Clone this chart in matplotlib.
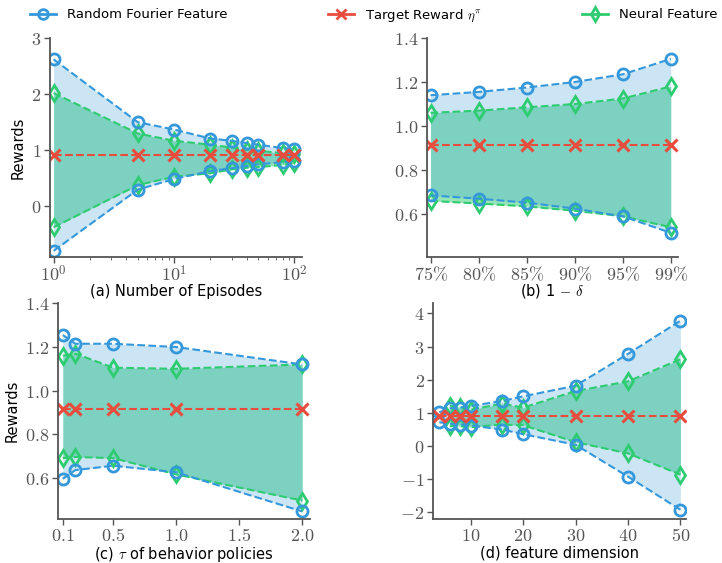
import numpy as np
import matplotlib
matplotlib.use("Agg")
from matplotlib import pyplot as plt
from matplotlib.lines import Line2D

plt.rcParams['mathtext.fontset'] = 'cm'
plt.rcParams['font.family'] = ['DejaVu Sans']

BLUE = '#3498db'
RED = '#e74c3c'
GREEN = '#2ecc71'

# (a) number of episodes
a_x = [1, 5, 10, 20, 30, 40, 50, 80, 100]
a_rff_hi = [2.62, 1.50, 1.37, 1.21, 1.17, 1.13, 1.10, 1.04, 1.02]
a_rff_lo = [-0.79, 0.30, 0.49, 0.63, 0.68, 0.72, 0.75, 0.79, 0.81]
a_nf_hi = [2.02, 1.30, 1.17, 1.10, 1.05, 1.01, 0.99, 0.95, 0.93]
a_nf_lo = [-0.37, 0.38, 0.53, 0.59, 0.66, 0.69, 0.70, 0.74, 0.77]
a_target = [0.92] * 9

# (b) 1 - delta
b_labels = ['75\\%', '80\\%', '85\\%', '90\\%', '95\\%', '99\\%']
b_rff_hi = [1.14, 1.155, 1.175, 1.20, 1.235, 1.305]
b_rff_lo = [0.685, 0.67, 0.652, 0.625, 0.59, 0.515]
b_nf_hi = [1.06, 1.07, 1.085, 1.10, 1.125, 1.18]
b_nf_lo = [0.66, 0.648, 0.635, 0.615, 0.59, 0.54]
b_target = [0.915] * 6

# (c) tau of behavior policies
c_x = [0.1, 0.2, 0.5, 1.0, 2.0]
c_rff_hi = [1.255, 1.215, 1.215, 1.20, 1.12]
c_rff_lo = [0.595, 0.635, 0.655, 0.625, 0.445]
c_nf_hi = [1.16, 1.17, 1.105, 1.10, 1.12]
c_nf_lo = [0.69, 0.695, 0.69, 0.615, 0.495]
c_target = [0.915] * 5

# (d) feature dimension
d_x = [4, 6, 8, 10, 16, 20, 30, 40, 50]
d_rff_hi = [1.02, 1.14, 1.16, 1.21, 1.36, 1.50, 1.82, 2.78, 3.78]
d_rff_lo = [0.72, 0.67, 0.65, 0.62, 0.50, 0.36, 0.04, -0.92, -1.92]
d_nf_x = [6, 8, 10, 16, 20, 30, 40, 50]
d_nf_hi = [1.22, 1.18, 1.10, 1.28, 1.16, 1.66, 1.95, 2.62]
d_nf_lo = [0.60, 0.60, 0.57, 0.65, 0.63, 0.12, -0.22, -0.86]
d_target = [0.92] * 9


def draw(ax, x, rff_hi, rff_lo, nf_x, nf_hi, nf_lo, target):
    ax.fill_between(nf_x, nf_lo, nf_hi, color=GREEN, alpha=0.5, lw=0)
    ax.fill_between(x, rff_lo, rff_hi, color=BLUE, alpha=0.25, lw=0)
    kw = dict(ls='--', lw=1.5, ms=8, mew=2, fillstyle='none')
    ax.plot(nf_x, nf_hi, color=GREEN, marker='d', **kw)
    ax.plot(nf_x, nf_lo, color=GREEN, marker='d', **kw)
    ax.plot(x, rff_hi, color=BLUE, marker='o', **kw)
    ax.plot(x, rff_lo, color=BLUE, marker='o', **kw)
    ax.plot(x, target, color=RED, marker='x', ls='--', lw=1.5, ms=9, mew=2.2)
    for s in ['top', 'right']:
        ax.spines[s].set_visible(False)
    for s in ['left', 'bottom']:
        ax.spines[s].set_color('#555555')
        ax.spines[s].set_linewidth(1.3)
    ax.tick_params(colors='#555555', labelsize=13, width=1, length=4, pad=2)


def mt(vals, fmt):
    return ['$' + fmt.format(v) + '$' for v in vals]


fig = plt.figure(figsize=(7.22, 5.63), dpi=100)
ax_a = fig.add_axes([0.069, 0.5435, 0.349, 0.389])
ax_b = fig.add_axes([0.591, 0.5435, 0.348, 0.389])
ax_c = fig.add_axes([0.080, 0.078, 0.349, 0.383])
ax_d = fig.add_axes([0.5997, 0.078, 0.350, 0.383])

draw(ax_a, a_x, a_rff_hi, a_rff_lo, a_x, a_nf_hi, a_nf_lo, a_target)
ax_a.set_xscale('log')
ax_a.set_xlim(0.93, 115)
ax_a.set_ylim(-0.9, 3.0)
ax_a.set_xticks([1, 10, 100])
ax_a.set_xticklabels(['$10^0$', '$10^1$', '$10^2$'])
ax_a.set_yticks([0, 1, 2, 3])
ax_a.set_yticklabels(mt([0, 1, 2, 3], '{}'))
ax_a.tick_params(which='minor', colors='#555555', length=2.5)
ax_a.set_ylabel('Rewards', fontsize=10.5)
ax_a.set_xlabel('(a) Number of Episodes', fontsize=10.5, labelpad=-1)

bx = list(range(len(b_labels)))
draw(ax_b, bx, b_rff_hi, b_rff_lo, bx, b_nf_hi, b_nf_lo, b_target)
ax_b.set_xlim(-0.08, 5.15)
ax_b.set_ylim(0.405, 1.4)
ax_b.set_xticks(bx)
ax_b.set_xticklabels(['$' + l + '$' for l in b_labels])
ax_b.set_yticks([0.6, 0.8, 1.0, 1.2, 1.4])
ax_b.set_yticklabels(mt([0.6, 0.8, 1.0, 1.2, 1.4], '{:.1f}'))
ax_b.set_xlabel('(b) 1 $-$ $\\delta$', fontsize=10.5, labelpad=-1)

draw(ax_c, c_x, c_rff_hi, c_rff_lo, c_x, c_nf_hi, c_nf_lo, c_target)
ax_c.set_xlim(0.06, 2.06)
ax_c.set_ylim(0.41, 1.4)
ax_c.set_xticks([0.1, 0.5, 1.0, 1.5, 2.0])
ax_c.set_xticklabels(mt([0.1, 0.5, 1.0, 1.5, 2.0], '{:.1f}'))
ax_c.set_yticks([0.6, 0.8, 1.0, 1.2, 1.4])
ax_c.set_yticklabels(mt([0.6, 0.8, 1.0, 1.2, 1.4], '{:.1f}'))
ax_c.set_ylabel('Rewards', fontsize=10.5)
ax_c.set_xlabel('(c) $\\tau$ of behavior policies', fontsize=10.5, labelpad=0)

draw(ax_d, d_x, d_rff_hi, d_rff_lo, d_nf_x, d_nf_hi, d_nf_lo, d_target)
ax_d.set_xlim(2.8, 51)
ax_d.set_ylim(-2.2, 4.3)
ax_d.set_xticks([10, 20, 30, 40, 50])
ax_d.set_xticklabels(mt([10, 20, 30, 40, 50], '{}'))
ax_d.set_yticks([-2, -1, 0, 1, 2, 3, 4])
ax_d.set_yticklabels(['$' + str(v) + '$' for v in [-2, -1, 0, 1, 2, 3, 4]])
ax_d.set_xlabel('(d) feature dimension', fontsize=10.5, labelpad=0)

handles = [
    Line2D([], [], color=BLUE, marker='o', lw=2, ms=7, mew=2, fillstyle='none'),
    Line2D([], [], color=RED, marker='x', lw=2, ms=7, mew=2),
    Line2D([], [], color=GREEN, marker='d', lw=2, ms=7, mew=2, fillstyle='none'),
]
fig.legend(handles, ['Random Fourier Feature', 'Target Reward $\\eta^\\pi$', 'Neural Feature'],
           loc='center', ncol=3, mode='expand', frameon=False, fontsize=9.5,
           bbox_to_anchor=(0.025, 0.945, 0.985, 0.055), handlelength=2.0)

fig.savefig('out.png', dpi=100)
